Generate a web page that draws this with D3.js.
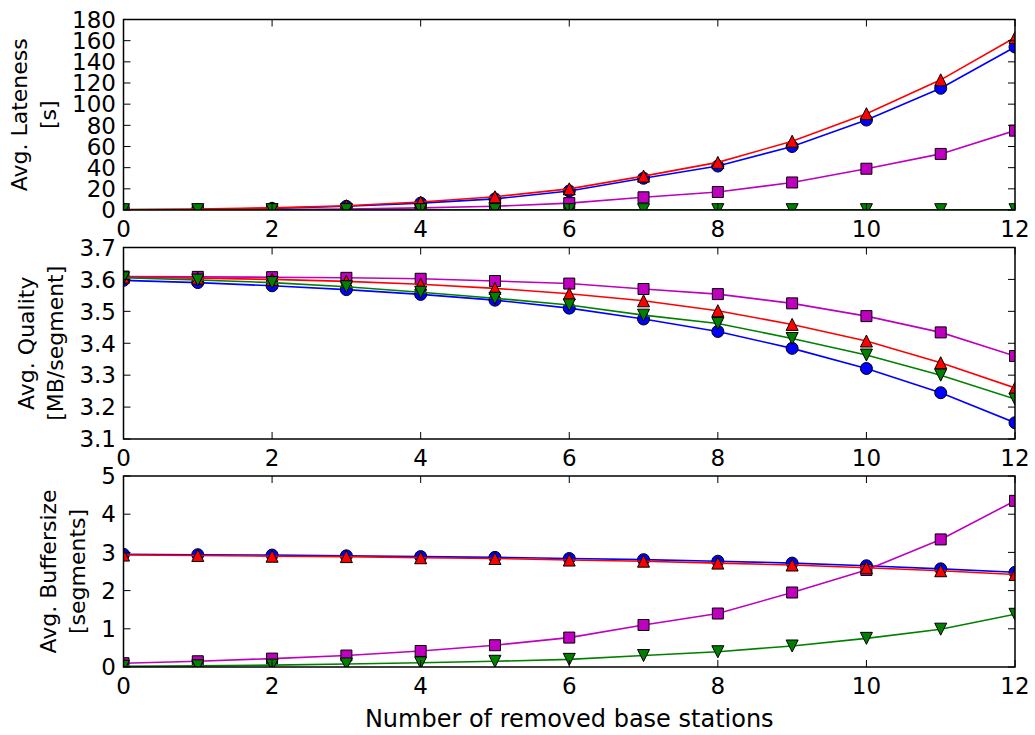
<!DOCTYPE html>
<html>
<head>
<meta charset="utf-8">
<script src="https://cdn.jsdelivr.net/npm/d3@7"></script>
<style>
  body { margin: 0; background: #fff; }
  text { font-family: "DejaVu Sans", sans-serif; fill: #000; }
</style>
</head>
<body>
<svg id="chart" width="1035" height="735"></svg>
<script>
// number of removed base stations
const removed = [0, 1, 2, 3, 4, 5, 6, 7, 8, 9, 10, 11, 12];

// Avg. Lateness [s]
const lateBlue    = [0.2, 0.5, 1.5, 3.5, 6.5, 10.5, 18, 30, 41.5, 60, 85, 115, 154];
const lateMagenta = [0.1, 0.2, 0.5, 1, 2, 3.5, 6.5, 12, 17, 26, 39, 53, 75];
const lateRed     = [0.5, 1, 2, 4, 7.5, 12.5, 20, 32, 45, 65, 91, 123, 163];
const lateGreen   = [0.3, 0.3, 0.3, 0.3, 0.3, 0.3, 0.3, 0.3, 0.3, 0.3, 0.3, 0.3, 0.3];

// Avg. Quality [MB/segment]
const qualBlue    = [3.597, 3.590, 3.580, 3.568, 3.553, 3.535, 3.510, 3.476, 3.437, 3.384, 3.321, 3.245, 3.151];
const qualMagenta = [3.609, 3.608, 3.607, 3.605, 3.602, 3.595, 3.587, 3.570, 3.554, 3.525, 3.485, 3.434, 3.360];
const qualRed     = [3.607, 3.604, 3.600, 3.594, 3.585, 3.572, 3.555, 3.533, 3.502, 3.459, 3.407, 3.339, 3.260];
const qualGreen   = [3.605, 3.598, 3.590, 3.577, 3.560, 3.541, 3.520, 3.488, 3.462, 3.415, 3.363, 3.300, 3.225];

// Avg. Buffersize [segments]
const bufBlue    = [2.95, 2.94, 2.93, 2.91, 2.89, 2.87, 2.84, 2.81, 2.77, 2.72, 2.65, 2.57, 2.48];
const bufMagenta = [0.10, 0.15, 0.22, 0.30, 0.42, 0.57, 0.77, 1.10, 1.40, 1.95, 2.54, 3.34, 4.35];
const bufRed     = [2.93, 2.92, 2.90, 2.89, 2.86, 2.84, 2.80, 2.77, 2.72, 2.67, 2.60, 2.52, 2.42];
const bufGreen   = [0.02, 0.03, 0.05, 0.08, 0.11, 0.15, 0.20, 0.30, 0.40, 0.55, 0.75, 0.99, 1.38];

const xTicks = [0, 2, 4, 6, 8, 10, 12];
const lateTicks = [0, 20, 40, 60, 80, 100, 120, 140, 160, 180];
const qualTicks = [3.1, 3.2, 3.3, 3.4, 3.5, 3.6, 3.7];
const bufTicks = [0, 1, 2, 3, 4, 5];

const xLabel = "Number of removed base stations";

const panels = [
  { label: ["Avg. Lateness", "[s]"], domain: [0, 180], ticks: lateTicks, fmt: d3.format("d"),
    top: 19.5, bottom: 210,
    series: [lateBlue, lateMagenta, lateRed, lateGreen] },
  { label: ["Avg. Quality", "[MB/segment]"], domain: [3.1, 3.7], ticks: qualTicks, fmt: d3.format(".1f"),
    top: 247.5, bottom: 439,
    series: [qualBlue, qualMagenta, qualRed, qualGreen] },
  { label: ["Avg. Buffersize", "[segments]"], domain: [0, 5], ticks: bufTicks, fmt: d3.format("d"),
    top: 476, bottom: 667,
    series: [bufBlue, bufMagenta, bufRed, bufGreen] }
];

// drawing order: blue, magenta, red, green
const styles = [
  { color: "#0000ff", marker: "o" },
  { color: "#bf00bf", marker: "s" },
  { color: "#ff0000", marker: "^" },
  { color: "#008000", marker: "v" }
];

function markerPath(m) {
  const h = 6;
  if (m === "o") return d3.symbol(d3.symbolCircle, Math.PI * h * h)();
  if (m === "s") return "M-5.5,-5.5H5.5V5.5H-5.5Z";
  if (m === "^") return `M0,${-h}L${h},${h}L${-h},${h}Z`;
  return `M0,${h}L${h},${-h}L${-h},${-h}Z`;
}

const svg = d3.select("#chart");
const left = 123.5, right = 1015;
const tickFont = 23, labelFont = 22, xLabelFont = 24;
const tickLen = 7;

const x = d3.scaleLinear().domain([0, 12]).range([left, right]);

panels.forEach((p, pi) => {
  const y = d3.scaleLinear().domain(p.domain).range([p.bottom, p.top]);
  const g = svg.append("g");

  const clipId = "clip" + pi;
  svg.append("defs").append("clipPath").attr("id", clipId)
    .append("rect").attr("x", left).attr("y", p.top)
    .attr("width", right - left).attr("height", p.bottom - p.top);

  const plot = g.append("g").attr("clip-path", `url(#${clipId})`);

  p.series.forEach((vals, si) => {
    const st = styles[si];
    const pts = removed.map((r, i) => [r, vals[i]]);
    const line = d3.line().x(d => x(d[0])).y(d => y(d[1]));
    plot.append("path")
      .attr("d", line(pts))
      .attr("fill", "none")
      .attr("stroke", st.color)
      .attr("stroke-width", 1.6);
    plot.append("g").selectAll("path")
      .data(pts)
      .enter().append("path")
      .attr("d", markerPath(st.marker))
      .attr("transform", d => `translate(${x(d[0])},${y(d[1])})`)
      .attr("fill", st.color)
      .attr("stroke", "#000")
      .attr("stroke-width", 1);
  });

  // ticks (inward, all four sides)
  const ticksG = g.append("g").attr("stroke", "#000").attr("stroke-width", 1);
  xTicks.forEach(t => {
    ticksG.append("line").attr("x1", x(t)).attr("x2", x(t)).attr("y1", p.bottom).attr("y2", p.bottom - tickLen);
    ticksG.append("line").attr("x1", x(t)).attr("x2", x(t)).attr("y1", p.top).attr("y2", p.top + tickLen);
  });
  p.ticks.forEach(t => {
    ticksG.append("line").attr("x1", left).attr("x2", left + tickLen).attr("y1", y(t)).attr("y2", y(t));
    ticksG.append("line").attr("x1", right).attr("x2", right - tickLen).attr("y1", y(t)).attr("y2", y(t));
  });

  // frame
  g.append("rect")
    .attr("x", left).attr("y", p.top)
    .attr("width", right - left).attr("height", p.bottom - p.top)
    .attr("fill", "none").attr("stroke", "#000").attr("stroke-width", 1.5);

  // x tick labels
  g.append("g").selectAll("text")
    .data(xTicks)
    .enter().append("text")
    .attr("x", d => x(d))
    .attr("y", p.bottom + 27)
    .attr("text-anchor", "middle")
    .attr("font-size", tickFont)
    .text(d => d);

  // y tick labels
  const yl = g.append("g").selectAll("text")
    .data(p.ticks)
    .enter().append("text")
    .attr("x", left - 7.5)
    .attr("y", d => y(d))
    .attr("dy", "0.36em")
    .attr("text-anchor", "end")
    .attr("font-size", tickFont)
    .text(d => p.fmt(d));

  let minLeft = Infinity;
  yl.each(function () { minLeft = Math.min(minLeft, this.getBBox().x); });

  // y label (two lines, rotated)
  const cy = (p.top + p.bottom) / 2;
  const lab = g.append("text")
    .attr("text-anchor", "middle")
    .attr("font-size", labelFont)
    .attr("transform", `translate(0,${cy}) rotate(-90)`);
  lab.append("tspan").attr("x", 0).attr("y", 0).text(p.label[0]);
  lab.append("tspan").attr("x", 0).attr("y", 29).text(p.label[1]);
  const bb = lab.node().getBoundingClientRect();
  const shift = (minLeft - 11) - bb.right;
  lab.attr("transform", `translate(${shift},${cy}) rotate(-90)`);
});

svg.append("text")
  .attr("x", (left + right) / 2)
  .attr("y", 727)
  .attr("text-anchor", "middle")
  .attr("font-size", xLabelFont)
  .text(xLabel);
</script>
</body>
</html>
